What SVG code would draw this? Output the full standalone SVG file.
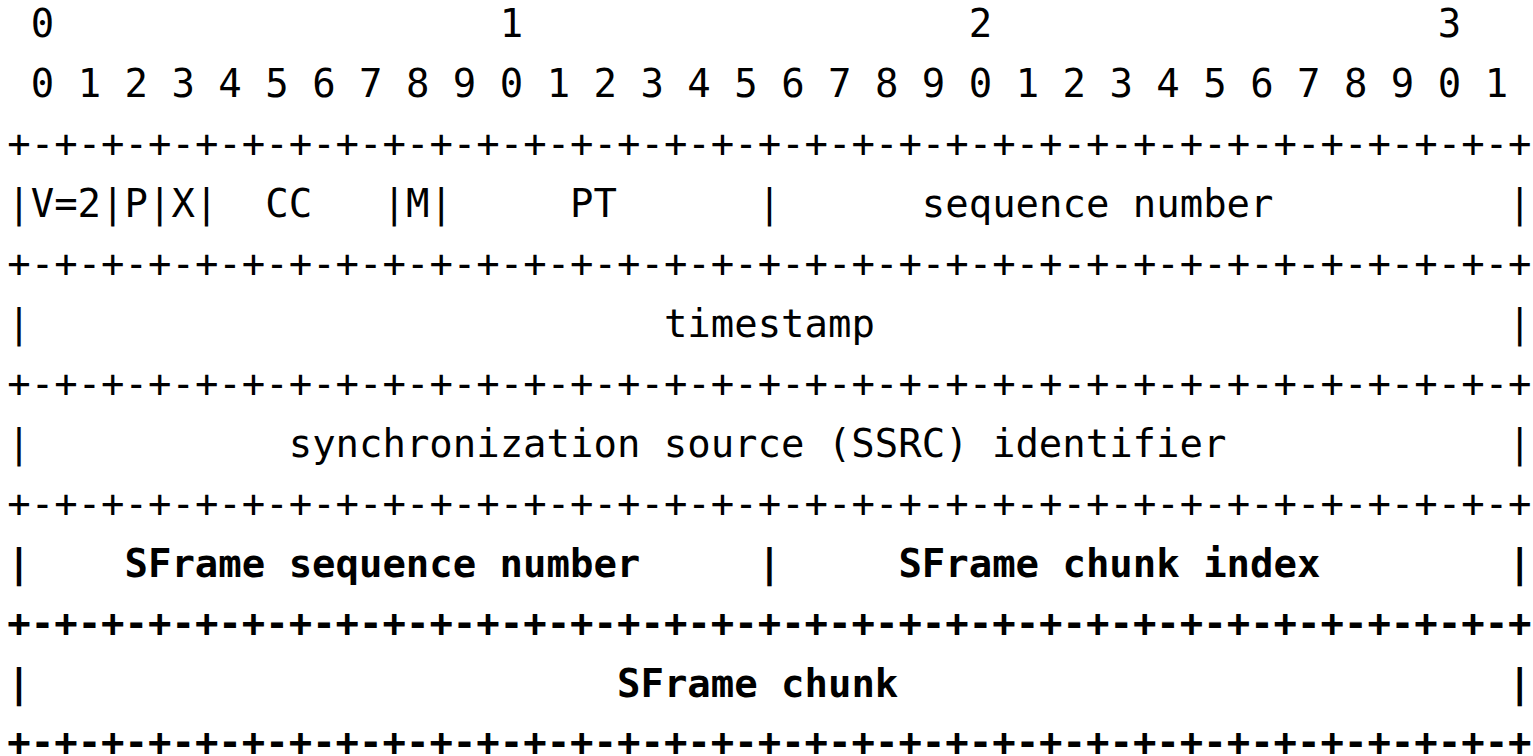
<svg xmlns="http://www.w3.org/2000/svg" width="1533" height="756" viewBox="0 0 1533 756">
  <!-- RTP header with SFrame fields, drawn as a monospace bit layout.
       Column pitch 23.45px starting at x=7.3; row pitch 60px, first baseline at y=37. -->
  <style>
    text { font-family: "DejaVu Sans Mono", "Liberation Mono", monospace; font-size: 38.95px; fill: #000; white-space: pre; }
    .b { font-weight: bold; }
  </style>
  <rect width="1533" height="756" fill="#fff"/>

  <!-- bit ruler -->
  <g id="bit-ruler">
    <text x="30.75" y="37">0</text>
    <text x="499.75" y="37">1</text>
    <text x="968.75" y="37">2</text>
    <text x="1437.75" y="37">3</text>
    <text x="30.75" y="97" textLength="1477.35" lengthAdjust="spacing">0 1 2 3 4 5 6 7 8 9 0 1 2 3 4 5 6 7 8 9 0 1 2 3 4 5 6 7 8 9 0 1</text>
  </g>

  <!-- horizontal borders between 32-bit words -->
  <g id="borders">
    <text x="7.3" y="157" textLength="1524.25" lengthAdjust="spacing">+-+-+-+-+-+-+-+-+-+-+-+-+-+-+-+-+-+-+-+-+-+-+-+-+-+-+-+-+-+-+-+-+</text>
    <text x="7.3" y="277" textLength="1524.25" lengthAdjust="spacing">+-+-+-+-+-+-+-+-+-+-+-+-+-+-+-+-+-+-+-+-+-+-+-+-+-+-+-+-+-+-+-+-+</text>
    <text x="7.3" y="397" textLength="1524.25" lengthAdjust="spacing">+-+-+-+-+-+-+-+-+-+-+-+-+-+-+-+-+-+-+-+-+-+-+-+-+-+-+-+-+-+-+-+-+</text>
    <text x="7.3" y="517" textLength="1524.25" lengthAdjust="spacing">+-+-+-+-+-+-+-+-+-+-+-+-+-+-+-+-+-+-+-+-+-+-+-+-+-+-+-+-+-+-+-+-+</text>
    <text class="b" x="7.3" y="637" textLength="1524.25" lengthAdjust="spacing">+-+-+-+-+-+-+-+-+-+-+-+-+-+-+-+-+-+-+-+-+-+-+-+-+-+-+-+-+-+-+-+-+</text>
    <text class="b" x="7.3" y="756" textLength="1524.25" lengthAdjust="spacing">+-+-+-+-+-+-+-+-+-+-+-+-+-+-+-+-+-+-+-+-+-+-+-+-+-+-+-+-+-+-+-+-+</text>
  </g>

  <!-- word 0: V, P, X, CC, M, PT, sequence number -->
  <g id="word-flags">
    <text x="7.3" y="217">|V=2|P|X|</text>
    <text x="265.25" y="217">CC</text>
    <text x="382.5" y="217">|M|</text>
    <text x="570.1" y="217">PT</text>
    <text x="757.7" y="217">|</text>
  </g>
  <g id="field-sequence-number">
    <text x="921.85" y="217">sequence number</text>
    <text x="1508.1" y="217">|</text>
  </g>

  <!-- word 1: timestamp -->
  <g id="field-timestamp">
    <text x="7.3" y="337">|</text>
    <text x="663.9" y="337">timestamp</text>
    <text x="1508.1" y="337">|</text>
  </g>

  <!-- word 2: SSRC -->
  <g id="field-ssrc">
    <text x="7.3" y="457">|</text>
    <text x="288.7" y="457">synchronization source (SSRC) identifier</text>
    <text x="1508.1" y="457">|</text>
  </g>

  <!-- word 3: SFrame sequence number / chunk index -->
  <g id="field-sframe-seq">
    <text class="b" x="7.3" y="577">|</text>
    <text class="b" x="124.55" y="577">SFrame sequence number</text>
    <text class="b" x="757.7" y="577">|</text>
  </g>
  <g id="field-sframe-chunk-index">
    <text class="b" x="898.4" y="577">SFrame chunk index</text>
    <text class="b" x="1508.1" y="577">|</text>
  </g>

  <!-- payload: SFrame chunk -->
  <g id="field-sframe-chunk">
    <text class="b" x="7.3" y="697">|</text>
    <text class="b" x="617" y="697">SFrame chunk</text>
    <text class="b" x="1508.1" y="697">|</text>
  </g>
</svg>
